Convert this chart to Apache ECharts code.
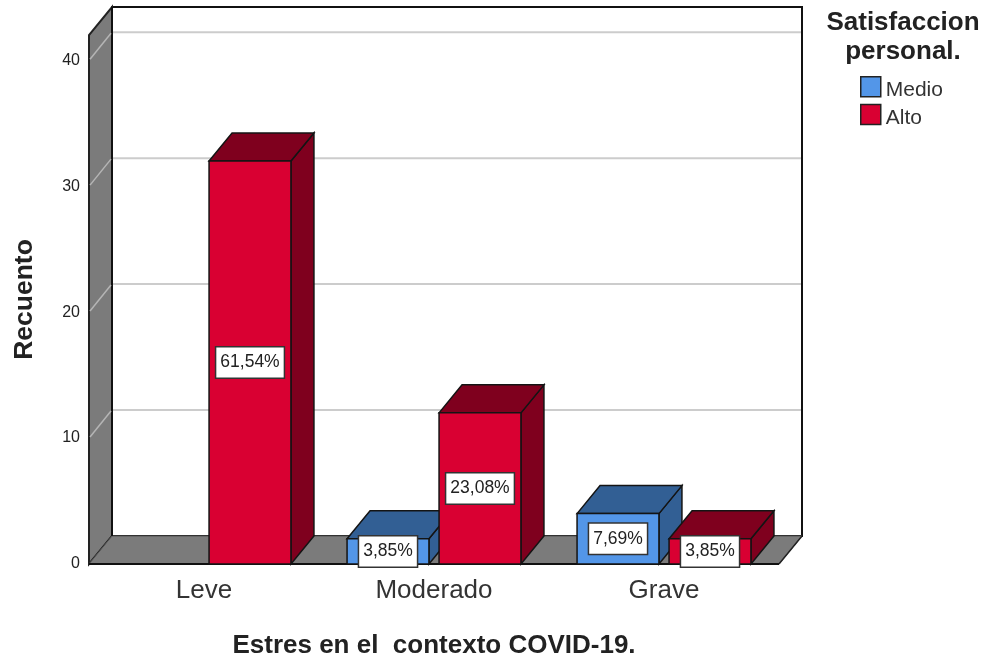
<!DOCTYPE html>
<html>
<head>
<meta charset="utf-8" />
<title>Estres en el contexto COVID-19</title>
<script src="https://cdn.jsdelivr.net/npm/echarts@6/dist/echarts.min.js"></script>
<style>
  html, body { margin: 0; padding: 0; background: #fff; }
  #chart { width: 984px; height: 658px; }
</style>
</head>
<body>
<div id="chart"></div>
<script>
const categories = ["Leve", "Moderado", "Grave"];
const medioValues = [0, 2, 4];
const altoValues = [32, 12, 2];
const medioLabels = ["", "3,85%", "7,69%"];
const altoLabels = ["61,54%", "23,08%", "3,85%"];
const gridTicks = [10, 20, 30, 40];

const fontFamily = '"Liberation Sans", Arial, sans-serif';
// 3D look: how far the back of the box is shifted from the front
const depthX = 23;
const depthY = -28;

function poly(points, fill, stroke, lineWidth) {
  return {
    type: "polygon",
    shape: { points: points },
    style: { fill: fill, stroke: stroke, lineWidth: lineWidth === undefined ? 1.5 : lineWidth },
  };
}

function renderWalls(params) {
  const r = params.coordSys;
  const left = r.x;
  const right = r.x + r.width;
  const top = r.y;
  const bottom = r.y + r.height;
  return {
    type: "group",
    children: [
      poly(
        [[left + depthX, top + depthY], [right + depthX, top + depthY], [right + depthX, bottom + depthY], [left + depthX, bottom + depthY]],
        "#ffffff", "#111111", 2
      ),
      poly(
        [[left, bottom], [left + depthX, bottom + depthY], [left + depthX, top + depthY], [left, top]],
        "#7b7b7b", "#222222", 2
      ),
      poly(
        [[left, bottom], [left + depthX, bottom + depthY], [right + depthX, bottom + depthY], [right, bottom]],
        "#7b7b7b", "#555555", 1
      ),
      {
        type: "line",
        shape: { x1: left, y1: bottom, x2: right, y2: bottom },
        style: { stroke: "#111111", lineWidth: 2 },
      },
      {
        type: "line",
        shape: { x1: right, y1: bottom, x2: right + depthX, y2: bottom + depthY },
        style: { stroke: "#222222", lineWidth: 1.5 },
      },
      {
        type: "line",
        shape: { x1: left + depthX, y1: bottom + depthY, x2: left + depthX, y2: top + depthY },
        style: { stroke: "#111111", lineWidth: 2 },
      },
    ],
  };
}

function renderGridLine(params, api) {
  const r = params.coordSys;
  const y = api.coord([0, api.value(0)])[1];
  return {
    type: "group",
    children: [
      {
        type: "line",
        shape: { x1: r.x + depthX + 1, y1: y + depthY, x2: r.x + r.width + depthX - 1, y2: y + depthY },
        style: { stroke: "#cccccc", lineWidth: 2 },
      },
      {
        type: "line",
        shape: { x1: r.x + 1, y1: y - 1, x2: r.x + depthX - 1, y2: y + depthY + 1 },
        style: { stroke: "#b5b5b5", lineWidth: 1.5 },
      },
    ],
  };
}

function barRenderer(front, dark, labels, side) {
  return function (params, api) {
    const value = api.value(1);
    if (!value) {
      return null;
    }
    const base = api.coord([api.value(0), 0]);
    const head = api.coord([api.value(0), value]);
    const band = api.size([1, 0])[0];
    const width = band * 0.356;
    const center = base[0] + side * band * 0.2;
    const x0 = center - width / 2;
    const x1 = center + width / 2;
    const y0 = head[1];
    const y1 = base[1];
    return {
      type: "group",
      children: [
        poly([[x1, y1], [x1 + depthX, y1 + depthY], [x1 + depthX, y0 + depthY], [x1, y0]], dark, "#141414"),
        poly([[x0, y0], [x0 + depthX, y0 + depthY], [x1 + depthX, y0 + depthY], [x1, y0]], dark, "#141414"),
        poly([[x0, y0], [x1, y0], [x1, y1], [x0, y1]], front, "#141414"),
        {
          type: "text",
          z2: 10,
          style: {
            text: labels[params.dataIndex],
            x: center,
            y: (y0 + y1) / 2,
            align: "center",
            verticalAlign: "middle",
            fontFamily: fontFamily,
            fontSize: 17.5,
            fill: "#222222",
            backgroundColor: "#ffffff",
            borderColor: "#333333",
            borderWidth: 1.5,
            padding: [6, 4, 6, 4],
          },
        },
      ],
    };
  };
}

const chart = echarts.init(document.getElementById("chart"));
chart.setOption({
  animation: false,
  backgroundColor: "#ffffff",
  title: {
    text: "Satisfaccion\npersonal.",
    left: 898,
    top: 3,
    textAlign: "center",
    textStyle: {
      fontFamily: fontFamily,
      fontSize: 26,
      fontWeight: "bold",
      color: "#222222",
      lineHeight: 29,
      align: "center",
    },
  },
  legend: {
    left: 855,
    top: 71,
    orient: "vertical",
    itemWidth: 20,
    itemHeight: 20,
    itemGap: 3,
    selectedMode: false,
    data: [
      { name: "Medio", icon: "rect" },
      { name: "Alto", icon: "rect" },
    ],
    itemStyle: { borderColor: "#222222", borderWidth: 1.5 },
    formatter: "{t|{name}}",
    textStyle: {
      rich: {
        t: { fontFamily: fontFamily, fontSize: 21, color: "#333333", padding: [7, 0, 0, 0] },
      },
    },
  },
  grid: { left: 89, top: 35, width: 690, height: 529, outerBoundsMode: "none" },
  xAxis: {
    type: "category",
    data: categories,
    axisLine: { show: false },
    axisTick: { show: false },
    axisLabel: { fontFamily: fontFamily, fontSize: 26, color: "#333333", margin: 14 },
    name: "Estres en el  contexto COVID-19.",
    nameLocation: "middle",
    nameGap: 69,
    nameTextStyle: { fontFamily: fontFamily, fontSize: 26, fontWeight: "bold", color: "#222222" },
  },
  yAxis: {
    type: "value",
    min: 0,
    max: 42,
    interval: 10,
    splitLine: { show: false },
    axisLine: { show: false },
    axisTick: { show: false },
    axisLabel: { fontFamily: fontFamily, fontSize: 16, color: "#222222", margin: 9, showMaxLabel: false, padding: [3, 0, 0, 0] },
    name: "Recuento",
    nameLocation: "middle",
    nameGap: 51,
    nameTextStyle: { fontFamily: fontFamily, fontSize: 26.5, fontWeight: "bold", color: "#222222" },
  },
  series: [
    { type: "custom", name: "walls", silent: true, z: 1, data: [[0, 0]], renderItem: renderWalls },
    { type: "custom", name: "grid", silent: true, z: 2, data: gridTicks.map((v) => [v]), encode: { y: 0 }, renderItem: renderGridLine },
    {
      type: "custom",
      name: "Medio",
      z: 3,
      itemStyle: { color: "#5396e8" },
      data: medioValues.map((v, i) => [i, v]),
      encode: { x: 0, y: 1 },
      renderItem: barRenderer("#5396e8", "#325f94", medioLabels, -1),
    },
    {
      type: "custom",
      name: "Alto",
      z: 4,
      itemStyle: { color: "#d90032" },
      data: altoValues.map((v, i) => [i, v]),
      encode: { x: 0, y: 1 },
      renderItem: barRenderer("#d90032", "#7f001e", altoLabels, 1),
    },
  ],
});
</script>
</body>
</html>
